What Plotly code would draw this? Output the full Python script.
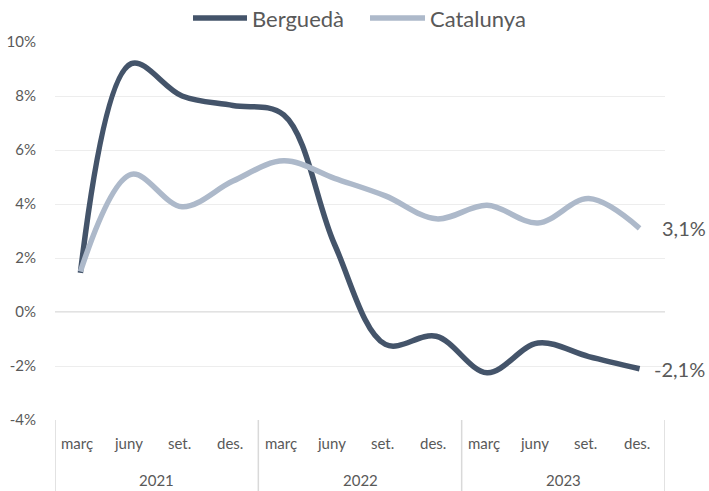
import plotly.graph_objects as go

years = ["2021", "2022", "2023"]
months = ["març", "juny", "set.", "des."]
berguedà = [1.45, 9.2, 8.0, 7.65, 7.3, 2.5, -1.2, -0.9, -2.25, -1.15, -1.65, -2.1]
catalunya = [1.5, 5.1, 3.9, 4.85, 5.6, 4.95, 4.3, 3.45, 3.95, 3.3, 4.2, 3.1]
y_ticks = [-4, -2, 0, 2, 4, 6, 8, 10]
series_names = ["Berguedà", "Catalunya"]
series_colors = ["#44546A", "#ADB9CA"]

n = len(berguedà)
xs = list(range(n))
FONT = "Lato"
GRAY = "#595959"
W, H = 709, 491
ML, MR, MT, MB = 55, 44, 42, 71
W_PLOT = W - ML - MR
H_PLOT = H - MT - MB


def px_x(p):
    return (p - ML) / W_PLOT


def px_y(p):
    return (H - MB - p) / H_PLOT


fig = go.Figure()
for name, vals, col in zip(series_names, [berguedà, catalunya], series_colors):
    fig.add_trace(go.Scatter(x=xs, y=vals, name=name, mode="lines", showlegend=False,
                             line=dict(color=col, width=5.5, shape="spline", smoothing=1)))

shapes = []
for k in range(len(years) + 1):
    shapes.append(dict(type="line", xref="x", yref="paper", x0=-0.5 + 4 * k, x1=-0.5 + 4 * k,
                       y0=0, y1=-75 / H_PLOT, line=dict(color="#D9D9D9", width=1.5)))
shapes.append(dict(type="line", xref="x", yref="y", x0=-0.5, x1=11.5, y0=0, y1=0,
                   line=dict(color="#D9D9D9", width=1.5), layer="below"))

annotations = []
# custom legend (Excel style long line keys)
legend_slots = [(193, 247), (370, 425)]
for (a, b), name, col in zip(legend_slots, series_names, series_colors):
    shapes.append(dict(type="line", xref="paper", yref="paper", x0=px_x(a), x1=px_x(b),
                       y0=px_y(18), y1=px_y(18), line=dict(color=col, width=5.5)))
    annotations.append(dict(x=px_x(b + 3), y=px_y(18), xref="paper", yref="paper", text=name,
                            showarrow=False, xanchor="left", yanchor="middle",
                            font=dict(family=FONT, size=22, color=GRAY)))

for i in range(n):
    annotations.append(dict(x=i, y=-23 / H_PLOT, xref="x", yref="paper", text=months[i % 4],
                            showarrow=False, font=dict(family=FONT, size=15, color=GRAY),
                            yanchor="middle", xshift=-3))
for j, yr in enumerate(years):
    annotations.append(dict(x=1.5 + 4 * j, y=-60 / H_PLOT, xref="x", yref="paper", text=yr,
                            showarrow=False, font=dict(family=FONT, size=15, color=GRAY),
                            yanchor="middle"))
for series, shift in ((berguedà, 12), (catalunya, 20)):
    v = series[-1]
    annotations.append(dict(x=n - 1, y=v, xref="x", yref="y",
                            text=f"{v:.1f}".replace(".", ",") + "%", showarrow=False,
                            xanchor="left", xshift=shift,
                            font=dict(family=FONT, size=20, color=GRAY)))

fig.update_layout(
    width=W, height=H,
    margin=dict(l=ML, r=MR, t=MT, b=MB, autoexpand=False),
    plot_bgcolor="white", paper_bgcolor="white",
    font=dict(family=FONT, color=GRAY),
    showlegend=False,
    xaxis=dict(range=[-0.5, n - 0.5], showticklabels=False, showgrid=False, zeroline=False,
               showline=False, fixedrange=True),
    yaxis=dict(range=[-4, 10], tickmode="array", tickvals=y_ticks,
               ticktext=[f"{v}%" for v in y_ticks], showgrid=True,
               gridcolor="#EDEDED", gridwidth=1, zeroline=False, showline=False,
               tickfont=dict(family=FONT, size=15, color=GRAY), ticklen=0, ticks="",
               ticklabelstandoff=18, automargin=False, fixedrange=True),
    shapes=shapes, annotations=annotations,
)
fig.write_html("out.html", config={"displayModeBar": False},
               post_script="document.body.style.margin='0';")
